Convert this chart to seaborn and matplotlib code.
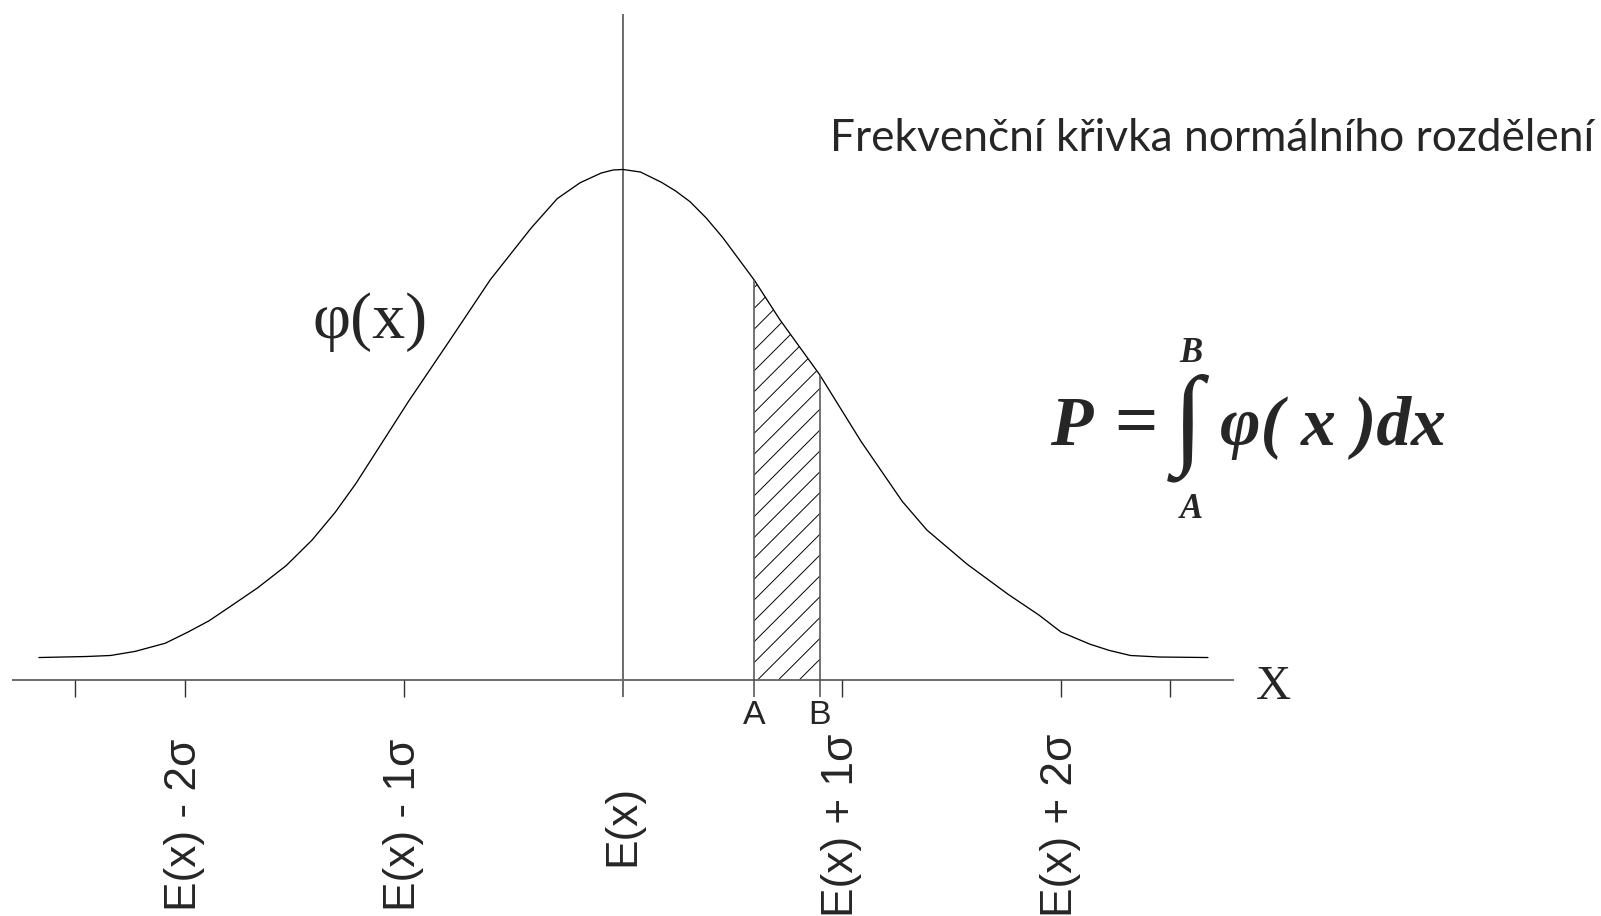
import numpy as np
import pandas as pd
import seaborn as sns
import matplotlib
matplotlib.use("Agg")
import matplotlib.pyplot as plt

# Frequency curve of the normal distribution, x in units of sigma around E(x),
# height relative to the peak value.
curve_x = [-2.667, -2.45, -2.34, -2.228, -2.09, -1.986, -1.89, -1.8, -1.67,
           -1.538, -1.42, -1.315, -1.221, -0.979, -0.793, -0.606, -0.42, -0.30,
           -0.196, -0.10, -0.045, 0.0, 0.08, 0.175, 0.24, 0.306, 0.38, 0.455,
           0.6, 0.716, 0.898, 1.086, 1.275, 1.387, 1.571, 1.758, 1.9, 2.0,
           2.133, 2.22, 2.317, 2.45, 2.671]
curve_y = [0.044, 0.046, 0.048, 0.056, 0.072, 0.094, 0.116, 0.142, 0.18,
           0.224, 0.274, 0.328, 0.384, 0.546, 0.664, 0.784, 0.885, 0.943,
           0.974, 0.993, 0.999, 1.0, 0.995, 0.975, 0.958, 0.937, 0.905, 0.867,
           0.783, 0.706, 0.598, 0.468, 0.35, 0.294, 0.227, 0.168, 0.127, 0.094,
           0.07, 0.058, 0.048, 0.045, 0.044]

# interval bounds of the shaded probability
bound_a = 0.6
bound_b = 0.898

# axis ticks and their labels
tick_pos = [-2.5, -2.0, -1.0, 1.0, 2.0, 2.5]
label_pos = [-2.0, -1.0, 0.0, 1.0, 2.0]
label_text = ["E(x) - 2σ", "E(x) - 1σ", "E(x)", "E(x) + 1σ", "E(x) + 2σ"]

title_text = "Frekvenční křivka normálního rozdělení"

sns.set_theme(style="white")
sans = ["Liberation Sans", "Arial", "DejaVu Sans"]
serif = ["Liberation Serif", "DejaVu Serif"]
plt.rcParams["font.family"] = sans
plt.rcParams["hatch.linewidth"] = 0.55

DPI = 125
fig = plt.figure(figsize=(1601 / DPI, 916 / DPI), dpi=DPI)
ax = fig.add_axes([0, 0, 1, 1])
ax.set_xlim(-2.8447, 4.4658)
ax.set_ylim(-0.4623, 1.332)
ax.axis("off")

axis_col = "#6a6a6a"
tick_len = 0.033

# horizontal axis and central vertical axis
ax.plot([-2.79, 2.79], [0, 0], color=axis_col, lw=1.1, solid_capstyle="butt")
ax.plot([0, 0], [-tick_len, 1.3046], color=axis_col, lw=1.1, solid_capstyle="butt")
for t in tick_pos:
    ax.plot([t, t], [-tick_len, 0], color="#303030", lw=0.8, solid_capstyle="butt")

# the density curve
df = pd.DataFrame({"x": curve_x, "y": curve_y})
sns.lineplot(data=df, x="x", y="y", sort=False, color="black", lw=0.75, ax=ax)

# hatched area between A and B
seg = df[(df.x >= bound_a) & (df.x <= bound_b)]
ax.fill_between(seg.x, 0, seg.y, facecolor="none", edgecolor="black",
                hatch="//", linewidth=0)
for b in (bound_a, bound_b):
    top = float(df.loc[np.isclose(df.x, b), "y"].iloc[0])
    ax.plot([b, b], [-tick_len, top], color="#505050", lw=0.9, solid_capstyle="butt")

ax.text(bound_a, -0.0705, "A", ha="center", va="center", fontsize=19.5, family=sans)
ax.text(bound_b, -0.0705, "B", ha="center", va="center", fontsize=19.5, family=sans)

for p, s in zip(label_pos, label_text):
    ax.text(p, -0.284, s, rotation=90, ha="center", va="center", fontsize=25.5,
            family=sans)

ax.text(-1.155, 0.70, "φ(x)", ha="center", va="center", fontsize=38, family=serif)
ax.text(2.968, -0.014, "X", ha="center", va="center", fontsize=28, family=serif)

# title, sized to its span
title = ax.text(0.945, 1.036, title_text, ha="left", va="baseline",
                fontsize=28, family=["Lato", "DejaVu Sans"])
fig.canvas.draw()
w = title.get_window_extent().width
title.set_fontsize(28 * 763 / w)

# the probability formula
fx = lambda px: (px - 623) / 219.0
fy = lambda py: (680 - py) / 510.5
fkw = dict(family=serif, fontweight="bold", fontstyle="italic")
ax.text(fx(1050), fy(445), "P", ha="left", va="baseline", fontsize=40, **fkw)
ax.text(fx(1114), fy(445), "=", ha="left", va="baseline", fontsize=44,
        family=serif, fontweight="bold")
ax.text(fx(1188), fy(428), "∫", ha="center", va="center", fontsize=64,
        family=serif)
ax.text(fx(1191), fy(354), "B", ha="center", va="center", fontsize=20, **fkw)
ax.text(fx(1191), fy(510), "A", ha="center", va="center", fontsize=20, **fkw)
ax.text(fx(1220), fy(445), "φ( x )dx", ha="left", va="baseline", fontsize=40, **fkw)

fig.savefig("out.png", dpi=DPI)
